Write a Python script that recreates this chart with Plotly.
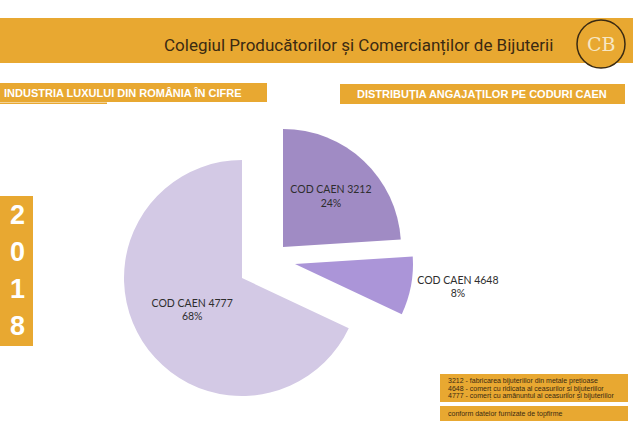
import plotly.graph_objects as go

# data
labels = ['COD CAEN 3212', 'COD CAEN 4648', 'COD CAEN 4777']
values = [24, 8, 68]
colors = ['#a08bc4', '#ab95d8', '#d3c9e5']
legend_lines = [
    '3212 - fabricarea bijuteriilor din metale prețioase',
    '4648 - comerț cu ridicata al ceasurilor și bijuteriilor',
    '4777 - comerț cu amănuntul al ceasurilor și bijuteriilor',
]
year = '2018'

W, H = 633, 431
ORANGE = '#e8a831'

def px(x):
    return x / W

def py(y):
    return 1 - y / H

# pixel centres of each (exploded) slice, radius in px
R = 118
centres = [(283, 247), (295, 264), (242, 278)]
textpos = ['inside', 'outside', 'inside']

fig = go.Figure()

# main slice first, exploded ones on top
for i in [2, 0, 1]:
    cx, cy = centres[i]
    cols = ['rgba(0,0,0,0)'] * len(values)
    cols[i] = colors[i]
    tpos = ['none'] * len(values)
    tpos[i] = textpos[i]
    fig.add_trace(go.Pie(
        labels=labels, values=values,
        sort=False, direction='clockwise', rotation=0,
        marker=dict(colors=cols, line=dict(width=0)),
        texttemplate='%{label}<br>%{percent}',
        textposition=tpos,
        insidetextorientation='horizontal',
        textfont=dict(family='Lato', size=10.5, color='#2e2e2e'),
        hoverinfo='skip', showlegend=False,
        domain=dict(x=[px(cx - R), px(cx + R)], y=[py(cy + R), py(cy - R)]),
    ))

shapes = [
    # header band
    dict(type='rect', x0=0, x1=1, y0=py(63), y1=py(18), fillcolor=ORANGE, line_width=0),
    # section boxes
    dict(type='rect', x0=0, x1=px(267), y0=py(102), y1=py(83), fillcolor=ORANGE, line_width=0),
    dict(type='rect', x0=px(340), x1=px(625), y0=py(104), y1=py(84), fillcolor=ORANGE, line_width=0),
    dict(type='rect', x0=0, x1=px(107), y0=py(104), y1=py(102.5), fillcolor=ORANGE, line_width=0),
    # year box
    dict(type='rect', x0=0, x1=px(33), y0=py(346), y1=py(196), fillcolor=ORANGE, line_width=0),
    # legend boxes
    dict(type='rect', x0=px(440), x1=px(628), y0=py(402), y1=py(374), fillcolor=ORANGE, line_width=0),
    dict(type='rect', x0=px(440), x1=px(628), y0=py(421), y1=py(406), fillcolor=ORANGE, line_width=0),
    # logo circle
    dict(type='circle', x0=px(577), x1=px(625), y0=py(68), y1=py(20),
         fillcolor=ORANGE, line=dict(color='#3a2a12', width=1.5)),
]

annotations = [
    dict(x=px(555), y=py(46), text='Colegiul Producătorilor și Comercianților de Bijuterii',
         xanchor='right', yanchor='middle',
         font=dict(family='Roboto', size=17, color='#3b2a12')),
    dict(x=px(601), y=py(44), text='CB', xanchor='center', yanchor='middle',
         font=dict(family='DejaVu Serif', size=19, color='#f6e7c4')),
    dict(x=px(2), y=py(93), text='INDUSTRIA LUXULUI DIN ROMÂNIA ÎN CIFRE',
         xanchor='left', yanchor='middle',
         font=dict(family='Liberation Sans', size=11, color='white', weight='bold')),
    dict(x=px(482), y=py(94), text='DISTRIBUȚIA ANGAJAȚILOR PE CODURI CAEN',
         xanchor='center', yanchor='middle',
         font=dict(family='Liberation Sans', size=11, color='white', weight='bold')),
]

for k, d in enumerate(year):
    annotations.append(dict(x=px(17), y=py(215 + 37 * k), text=d, xanchor='center', yanchor='middle',
                            font=dict(family='Liberation Sans', size=27, color='white', weight='bold')))

for k, line in enumerate(legend_lines):
    annotations.append(dict(x=px(446), y=py(381 + 7.5 * k), text=line, xanchor='left', yanchor='middle',
                            font=dict(family='Liberation Sans', size=7, color='#3a2a12')))

annotations.append(dict(x=px(446), y=py(413.5), text='conform datelor furnizate de topfirme',
                        xanchor='left', yanchor='middle',
                        font=dict(family='Liberation Sans', size=7, color='#3a2a12')))

for a in annotations:
    a.update(xref='paper', yref='paper', showarrow=False)

fig.update_layout(
    width=W, height=H,
    margin=dict(l=0, r=0, t=0, b=0),
    paper_bgcolor='white', plot_bgcolor='white',
    shapes=shapes, annotations=annotations,
)

# page body has an 8px default margin; drop it so the figure fills the window
fig.write_html('out.html', config={'displayModeBar': False},
               post_script="document.body.style.margin='0';")
